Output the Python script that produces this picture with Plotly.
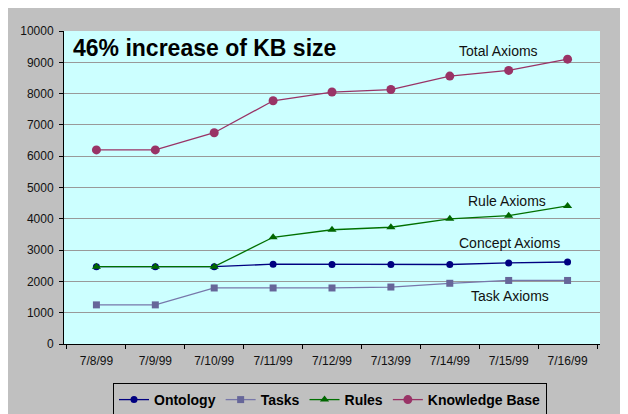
import plotly.graph_objects as go

dates = ["7/8/99", "7/9/99", "7/10/99", "7/11/99", "7/12/99", "7/13/99", "7/14/99", "7/15/99", "7/16/99"]
ontology = [2470, 2470, 2470, 2550, 2540, 2540, 2540, 2590, 2620]
tasks = [1250, 1250, 1790, 1790, 1790, 1820, 1940, 2030, 2030]
rules = [2470, 2470, 2470, 3410, 3650, 3730, 4000, 4100, 4410]
knowledge_base = [6200, 6200, 6750, 7770, 8050, 8130, 8560, 8740, 9100]

FONT = "Liberation Sans, Arial, sans-serif"

fig = go.Figure()
fig.add_trace(go.Scatter(x=dates, y=ontology, name="Ontology", mode="lines+markers",
                         line=dict(color="#000080", width=1.3),
                         marker=dict(symbol="circle", size=7, color="#000080")))
fig.add_trace(go.Scatter(x=dates, y=tasks, name="Tasks", mode="lines+markers",
                         line=dict(color="#7777aa", width=1.3),
                         marker=dict(symbol="square", size=7, color="#666699")))
fig.add_trace(go.Scatter(x=dates, y=rules, name="Rules", mode="lines+markers",
                         line=dict(color="#007000", width=1.3),
                         marker=dict(symbol="triangle-up", size=8, color="#006600")))
fig.add_trace(go.Scatter(x=dates, y=knowledge_base, name="Knowledge Base", mode="lines+markers",
                         line=dict(color="#993366", width=1.3),
                         marker=dict(symbol="circle", size=9, color="#993366")))

annots = [
    dict(text="46% increase of KB size", x=(71 - 64) / 536, y=(344 - 48) / 313,
         xanchor="left", yanchor="middle", font=dict(size=23, weight="bold", color="#000")),
    dict(text="Total Axioms", x=(498 - 64) / 536, y=(344 - 51) / 313,
         xanchor="center", yanchor="middle", font=dict(size=14, color="#111")),
    dict(text="Rule Axioms", x=(507 - 64) / 536, y=(344 - 201) / 313,
         xanchor="center", yanchor="middle", font=dict(size=14, color="#111")),
    dict(text="Concept Axioms", x=(509 - 64) / 536, y=(344 - 243) / 313,
         xanchor="center", yanchor="middle", font=dict(size=14, color="#111")),
    dict(text="Task Axioms", x=(510 - 64) / 536, y=(344 - 296) / 313,
         xanchor="center", yanchor="middle", font=dict(size=14, color="#111")),
]
for a in annots:
    a.update(xref="paper", yref="paper", showarrow=False)
    a["font"]["family"] = FONT

fig.update_layout(
    width=628, height=414,
    margin=dict(l=56, r=36, t=23, b=78, autoexpand=False),
    paper_bgcolor="#c0c0c0",
    plot_bgcolor="#ccffff",
    font=dict(family=FONT, size=12, color="#111"),
    annotations=annots,
    showlegend=True,
    legend=dict(orientation="h", x=(330 - 64) / 536, xanchor="center",
                y=(344 - 383) / 313, yanchor="top",
                bordercolor="#000", borderwidth=1, bgcolor="rgba(0,0,0,0)",
                font=dict(size=14, weight="bold", color="#000", family=FONT),
                itemwidth=30, tracegroupgap=0),
)
fig.update_xaxes(type="category", tickson="boundaries", ticks="outside", ticklen=4,
                 tickcolor="#000", showline=True, linecolor="#000", linewidth=1,
                 showgrid=False, tickfont=dict(size=12, color="#111"), fixedrange=True,
                 ticklabelstandoff=6)
fig.update_yaxes(range=[0, 10000], dtick=1000, tickformat="d", ticks="outside", ticklen=4,
                 tickcolor="#000", showline=True, linecolor="#000", linewidth=1, showgrid=True,
                 gridcolor="#999999", gridwidth=1, zeroline=False,
                 tickfont=dict(size=12, color="#111"), fixedrange=True, ticklabelstandoff=3)

fig.write_html("out.html")
